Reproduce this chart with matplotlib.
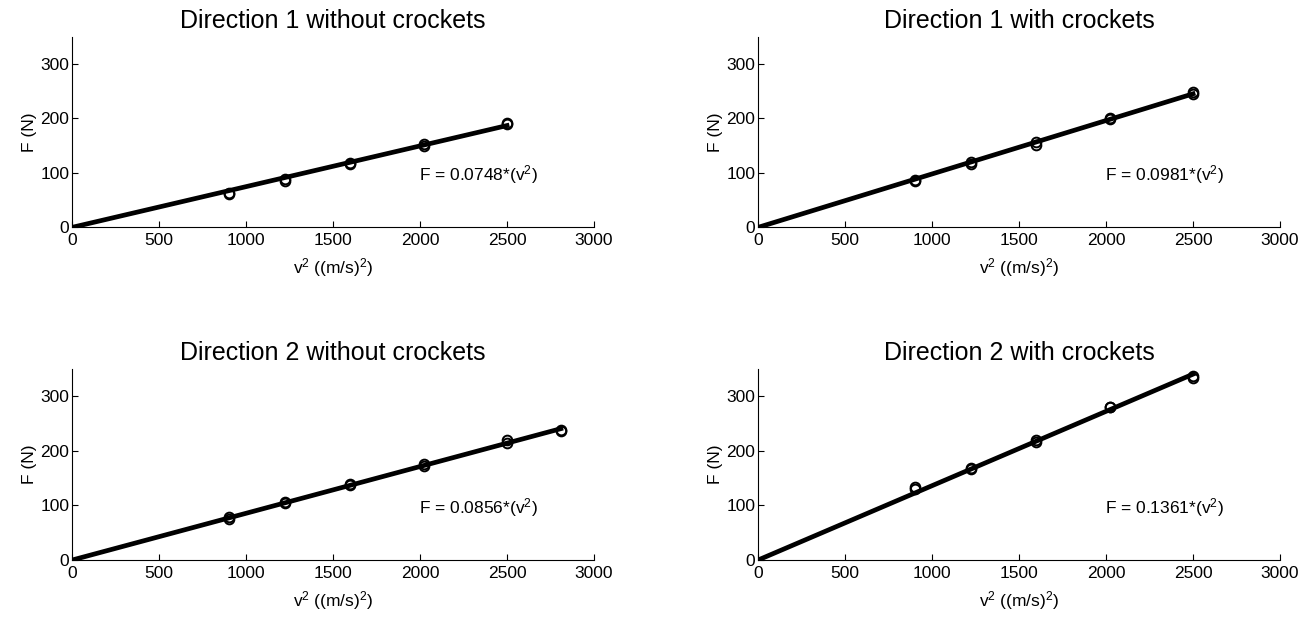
import matplotlib
matplotlib.use("Agg")
import matplotlib.pyplot as plt
import numpy as np

plt.rcParams['font.family'] = ['Liberation Sans', 'DejaVu Sans']
plt.rcParams['mathtext.fontset'] = 'custom'
plt.rcParams['mathtext.rm'] = 'Liberation Sans'
plt.rcParams['mathtext.it'] = 'Liberation Sans'

# v^2 values (m/s)^2, two runs per speed
v2_short = [900, 900, 1225, 1225, 1600, 1600, 2025, 2025, 2500, 2500]
v2_long = [900, 900, 1225, 1225, 1600, 1600, 2025, 2025, 2500, 2500, 2809, 2809]

F_d1_without = [62, 64, 86, 88, 117, 118, 150, 153, 190, 192]
F_d1_with = [85, 87, 117, 120, 152, 157, 199, 200, 245, 248]
F_d2_without = [75, 78, 105, 107, 138, 140, 173, 176, 215, 220, 236, 238]
F_d2_with = [130, 133, 166, 169, 216, 220, 280, 280, 333, 337]

titles = ["Direction 1 without crockets", "Direction 1 with crockets",
          "Direction 2 without crockets", "Direction 2 with crockets"]
coefs = [0.0748, 0.0981, 0.0856, 0.1361]
xs = [v2_short, v2_short, v2_long, v2_short]
ys = [F_d1_without, F_d1_with, F_d2_without, F_d2_with]

fig = plt.figure(figsize=(13.16, 6.23), dpi=100)
boxes = [[0.0547, 0.635, 0.3967, 0.306],
         [0.576, 0.635, 0.3967, 0.306],
         [0.0547, 0.101, 0.3967, 0.307],
         [0.576, 0.101, 0.3967, 0.307]]

for i in range(4):
    ax = fig.add_axes(boxes[i])
    x = np.array(xs[i])
    y = np.array(ys[i])
    xf = np.array([0, x.max()])
    ax.plot(xf, coefs[i] * xf, color='k', lw=3.4)
    ax.plot(x, y, 'o', mfc='none', mec='k', ms=7, mew=1.4)
    ax.set_xlim(0, 3000)
    ax.set_ylim(0, 350)
    ax.set_xticks([0, 500, 1000, 1500, 2000, 2500, 3000])
    ax.set_yticks([0, 100, 200, 300])
    ax.spines['top'].set_visible(False)
    ax.spines['right'].set_visible(False)
    ax.tick_params(direction='in', labelsize=12.5, length=4)
    ax.tick_params(axis='x', pad=4)
    ax.tick_params(axis='y', pad=2)
    ax.set_title(titles[i], fontsize=18, pad=6)
    ax.set_xlabel(r'v$^2$ ((m/s)$^2$)', fontsize=12.5, labelpad=6)
    ax.set_ylabel('F (N)', fontsize=12.5, labelpad=2)
    ax.text(1994, 97, 'F = %.4f*(v$^2$)' % coefs[i], fontsize=12.5, va='center')

fig.savefig("out.png", dpi=100)
